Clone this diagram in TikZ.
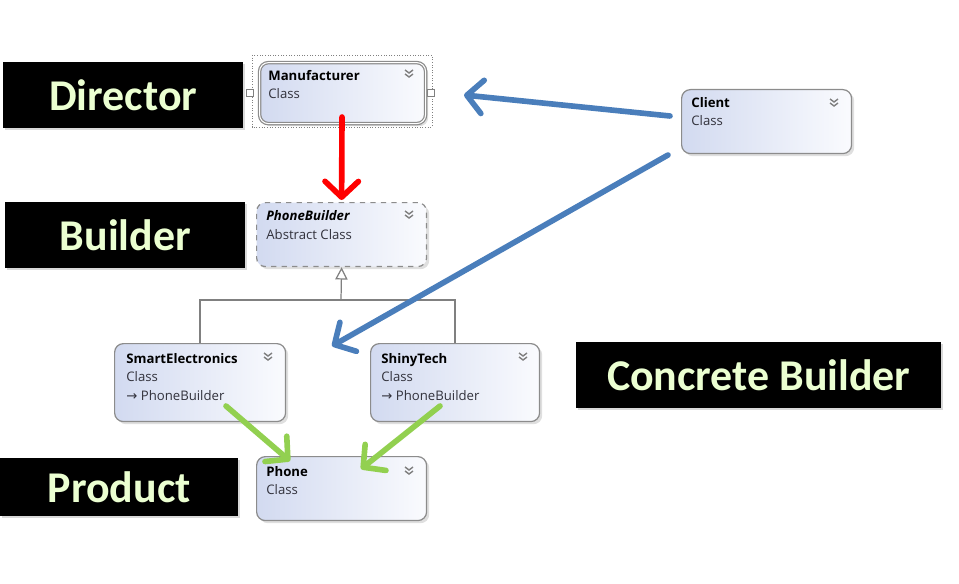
\documentclass[tikz,border=0pt]{standalone}
\usepackage{fontspec}
\setmainfont{Open Sans}
\newfontfamily\rolefont{Carlito}
\newfontfamily\symfont{DejaVu Sans}
\usetikzlibrary{arrows.meta,shadows}

\definecolor{rolegreen}{RGB}{235,255,209}
\definecolor{boxleft}{RGB}{210,218,240}
\definecolor{boxright}{RGB}{250,251,254}
\definecolor{boxline}{RGB}{140,140,140}
\definecolor{kindgray}{RGB}{50,50,60}
\definecolor{redarrow}{RGB}{255,0,0}
\definecolor{bluearrow}{RGB}{74,126,187}
\definecolor{greenarrow}{RGB}{146,208,80}

\begin{document}
\begin{tikzpicture}[x=0.02cm,y=-0.02cm,
    role/.style={fill=black, text=rolegreen, font=\rolefont\bfseries\fontsize{25}{30}\selectfont,
        inner sep=0pt, anchor=north west, drop shadow={shadow xshift=1.2pt,shadow yshift=-1.2pt,opacity=0.3}},
    classbox/.style={draw=boxline, line width=0.7pt, rounded corners=5pt, left color=boxleft, right color=boxright,
        anchor=north west, inner sep=0pt, drop shadow={shadow xshift=1.5pt,shadow yshift=-1.5pt,opacity=0.25}},
    cname/.style={font=\fontsize{7.5}{9}\selectfont\bfseries, anchor=base west, inner sep=0pt},
    ckind/.style={font=\fontsize{7.5}{9}\selectfont, text=kindgray, anchor=base west, inner sep=0pt},
    chev/.style={draw=gray, line width=0.8pt},
    handle/.style={draw=gray, fill=white, line width=0.4pt, minimum size=0.14cm, inner sep=0pt},
    inherit/.style={draw=gray, line width=0.7pt},
    bigarrow/.style={line width=3.2pt, line cap=round, -{Straight Barb[round,length=9pt,width=19pt]}}]
    \useasboundingbox (0,0) rectangle (959,584);

    % role labels
    \node[role, minimum width=4.8cm, minimum height=1.32cm] (director) at (3,62) {Director};
    \node[role, minimum width=4.8cm, minimum height=1.32cm] (builderlbl) at (5,202) {Builder};
    \node[role, minimum width=4.76cm, minimum height=1.16cm] (productlbl) at (0,458) {Product};
    \node[role, minimum width=7.3cm, minimum height=1.32cm] (concretelbl) at (576,342) {Concrete Builder};

    % selection frame round the director class
    \draw[gray, densely dotted, line width=0.5pt] (252,55) rectangle (432,127);
    \node[handle] (handleleft) at (250,93) {};
    \node[handle] (handleright) at (431,93) {};

    % classes
    \node[classbox, double=white, double distance=0.6pt, minimum width=3.32cm, minimum height=1.22cm] (manu) at (259,62) {};
    \node[classbox, dashed, minimum width=3.4cm, minimum height=1.28cm] (builder) at (256,202) {};
    \node[classbox, minimum width=3.42cm, minimum height=1.56cm] (smart) at (114,343) {};
    \node[classbox, minimum width=3.38cm, minimum height=1.56cm] (shiny) at (370,343) {};
    \node[classbox, minimum width=3.4cm, minimum height=1.28cm] (phone) at (256,456) {};
    \node[classbox, minimum width=3.4cm, minimum height=1.28cm] (client) at (681,89) {};

    \node[cname] (manuname) at (268,81) {Manufacturer};
    \node[ckind] (manukind) at (268,99) {Class};
    \node[cname] (buildername) at (266,220) {\itshape PhoneBuilder};
    \node[ckind] (builderkind) at (266,239) {Abstract Class};
    \node[cname] (smartname) at (126,363) {SmartElectronics};
    \node[ckind] (smartkind) at (126,381) {Class};
    \node[ckind] (smartbase) at (126,400) {{\symfont\fontsize{7.5}{9}\selectfont →} PhoneBuilder};
    \node[cname] (shinyname) at (381,363) {ShinyTech};
    \node[ckind] (shinykind) at (381,381) {Class};
    \node[ckind] (shinybase) at (381,400) {{\symfont\fontsize{7.5}{9}\selectfont →} PhoneBuilder};
    \node[cname] (phonename) at (266,476) {Phone};
    \node[ckind] (phonekind) at (266,494) {Class};
    \node[cname] (clientname) at (691,108) {Client};
    \node[ckind] (clientkind) at (691,126) {Class};

    \foreach \cx/\cy in {409/72, 409/213, 268/355, 523/355, 409/469, 834/101} {
        \draw[chev] (\cx-4,\cy-2) -- (\cx,\cy+1) -- (\cx+4,\cy-2);
        \draw[chev] (\cx-4,\cy+2) -- (\cx,\cy+5) -- (\cx+4,\cy+2);
    }

    % inheritance
    \coordinate (joint) at (341,300);
    \draw[inherit] (smart.north) |- (joint) -| (shiny.north);
    \draw[inherit, -{Triangle[open, length=7pt, width=7pt]}] (joint) -- (builder.south);

    % arrows
    \coordinate (redfrom) at (342,117);
    \coordinate (clientleft) at (670,116);
    \coordinate (manuright) at (464,95);
    \coordinate (clientlow) at (668,155);
    \coordinate (concretept) at (332,346);
    \coordinate (smartout) at (226,406);
    \coordinate (phonein) at (290,461);
    \coordinate (shinyout) at (440,406);
    \coordinate (phonein2) at (361,469);
    \draw[bigarrow, redarrow] (redfrom) -- ([yshift=0.04cm]builder.north);
    \draw[bigarrow, bluearrow] (clientleft) -- (manuright);
    \draw[bigarrow, bluearrow] (clientlow) -- (concretept);
    \draw[bigarrow, greenarrow] (smartout) -- (phonein);
    \draw[bigarrow, greenarrow] (shinyout) -- (phonein2);
\end{tikzpicture}
\end{document}
